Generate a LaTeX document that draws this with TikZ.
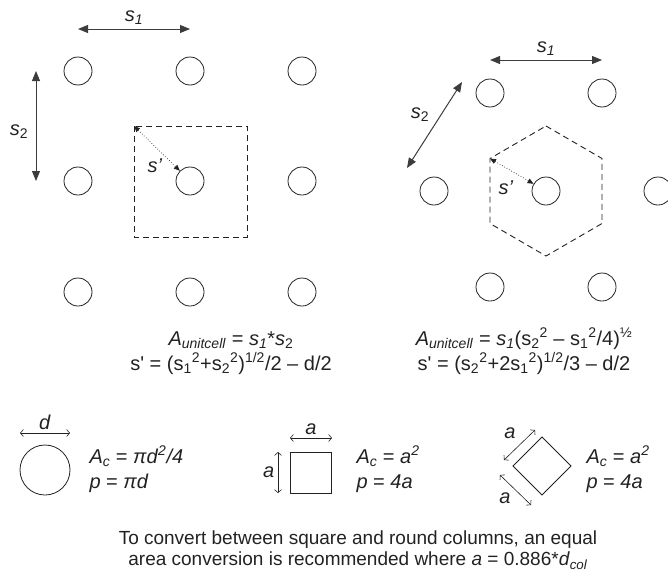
\documentclass[tikz,border=0pt]{standalone}
\usepackage{fontspec}
\setmainfont{Liberation Sans}
\usepackage{tikz}
\usetikzlibrary{arrows.meta}
\definecolor{inkdark}{HTML}{222222}
\definecolor{inkgray}{HTML}{3C3C3C}
\tikzset{
  every node/.append style={font=\fontsize{20}{25}\selectfont,text=inkdark},
  column/.style={draw=inkdark,circle,minimum size=28pt,inner sep=0pt,line width=0.8pt},
  cellline/.style={draw=inkdark,dash pattern=on 6pt off 4pt,line width=0.9pt},
  spacing/.style={{Triangle[length=10pt,width=8pt]}-{Triangle[length=10pt,width=8pt]},inkgray,line width=1pt},
  radius/.style={{Triangle[length=6pt,width=5pt]}-{Triangle[length=6pt,width=5pt]},inkdark,dotted,line width=0.7pt},
  dimline/.style={{Straight Barb[length=3pt,width=7pt]}-{Straight Barb[length=3pt,width=7pt]},inkdark,line width=0.6pt}
}

\begin{document}
\begin{tikzpicture}[x=1pt,y=-1pt]
  \useasboundingbox (0,0) rectangle (668,573);
  % square arrangement
  \node[column] (a11) at (78,71) {};
  \node[column] (a12) at (190,71) {};
  \node[column] (a13) at (302,71) {};
  \node[column] (a21) at (78,181) {};
  \node[column] (a22) at (190,181) {};
  \node[column] (a23) at (302,181) {};
  \node[column] (a31) at (78,292) {};
  \node[column] (a32) at (190,292) {};
  \node[column] (a33) at (302,292) {};
  \coordinate (s1l) at (78,29);
  \coordinate (s1r) at (190,29);
  \draw[spacing] (s1l) -- node[above=1pt] {\textit{s}\textsubscript{\textit{1}}} (s1r);
  \coordinate (s2t) at (36,71);
  \coordinate (s2b) at (36,181);
  \draw[spacing] (s2t) -- node[pos=.55,left=4pt] {\textit{s}\textsubscript{2}} (s2b);
  \draw[cellline] (134,126) rectangle (247,237);
  \coordinate (sqc) at (134,126);
  \draw[radius] (sqc) -- (a22.north west);
  \node (sp1) at (155,166) {\textit{s'}};

  % triangular arrangement
  \node[column] (b11) at (490,93) {};
  \node[column] (b12) at (602,93) {};
  \node[column] (b21) at (434,191) {};
  \node[column] (b22) at (546,191) {};
  \node[column] (b23) at (658,191) {};
  \node[column] (b31) at (490,287) {};
  \node[column] (b32) at (602,287) {};
  \coordinate (t1l) at (490,60);
  \coordinate (t1r) at (602,60);
  \draw[spacing] (t1l) -- node[above=1pt] {\textit{s}\textsubscript{\textit{1}}} (t1r);
  \coordinate (t2t) at (462,82);
  \coordinate (t2b) at (407,168);
  \draw[spacing] (t2t) -- (t2b);
  \node (s2r) at (420,115) {\textit{s}\textsubscript{2}};
  \draw[cellline] (546,126) -- (602,158.5) -- (602,223.5) -- (546,256)
    -- (490,223.5) -- (490,158.5) -- cycle;
  \coordinate (hxc) at (490,158.5);
  \draw[radius] (hxc) -- (b22.150);
  \node (sp2) at (506,188) {\textit{s'}};

  % unit cell formulas
  \node[align=center] (fsq) at (231,353)
    {\textit{A}\textsubscript{\textit{unitcell}} = \textit{s}\textsubscript{\textit{1}}*\textit{s}\textsubscript{2}\\
     s\textquotesingle{} = (s\textsubscript{1}\textsuperscript{2}+s\textsubscript{2}\textsuperscript{2})\textsuperscript{1/2}/2 – d/2};
  \node[align=center] (ftri) at (524,351)
    {\textit{A}\textsubscript{\textit{unitcell}} = \textit{s}\textsubscript{\textit{1}}(s\textsubscript{2}\textsuperscript{2} – s\textsubscript{1}\textsuperscript{2}/4)\textsuperscript{½}\\
     s\textquotesingle{} = (s\textsubscript{2}\textsuperscript{2}+2s\textsubscript{1}\textsuperscript{2})\textsuperscript{1/2}/3 – d/2};

  % column shapes
  \node[draw=inkdark,circle,minimum size=50pt,inner sep=0pt,line width=0.8pt] (col) at (45,470) {};
  \coordinate (dl) at (20,433);
  \coordinate (dr) at (70,433);
  \draw[dimline] (dl) -- node[above=0pt] {\textit{d}} (dr);
  \node[anchor=west,align=left] (ctxt) at (86,469)
    {\textit{A}\textsubscript{\textit{c}} = \textit{πd}\textsuperscript{\textit{2}}\textit{/4}\\ \textit{p} = \textit{πd}};

  \node[draw=inkdark,minimum size=41pt,inner sep=0pt,line width=0.8pt] (sq) at (311,472.5) {};
  \coordinate (sqtl) at (290,438);
  \coordinate (sqtr) at (332,438);
  \draw[dimline] (sqtl) -- node[above=0pt] {\textit{a}} (sqtr);
  \coordinate (sqlt) at (278,452);
  \coordinate (sqlb) at (278,493);
  \draw[dimline] (sqlt) -- node[left=0pt] {\textit{a}} (sqlb);
  \node[anchor=west,align=left] (stxt) at (353,469)
    {\textit{A}\textsubscript{\textit{c}} = \textit{a}\textsuperscript{\textit{2}}\\ \textit{p} = \textit{4a}};

  \node[draw=inkdark,minimum size=41pt,inner sep=0pt,line width=0.8pt,rotate=45] (dm) at (542,466) {};
  \coordinate (dua) at (504,460);
  \coordinate (dub) at (535,430);
  \draw[dimline] (dua) -- (dub);
  \node (dal) at (510,433) {\textit{a}};
  \coordinate (dla) at (500,475);
  \coordinate (dlb) at (531,505);
  \draw[dimline] (dla) -- (dlb);
  \node (dbl) at (505,498) {\textit{a}};
  \node[anchor=west,align=left] (dtxt) at (583,469)
    {\textit{A}\textsubscript{\textit{c}} = \textit{a}\textsuperscript{\textit{2}}\\ \textit{p} = \textit{4a}};

  \node[align=center,font=\fontsize{19}{21}\selectfont] (note) at (358,550)
    {To convert between square and round columns, an equal\\
     area conversion is recommended where \textit{a} = 0.886*\textit{d}\textsubscript{\textit{col}}};
\end{tikzpicture}
\end{document}
